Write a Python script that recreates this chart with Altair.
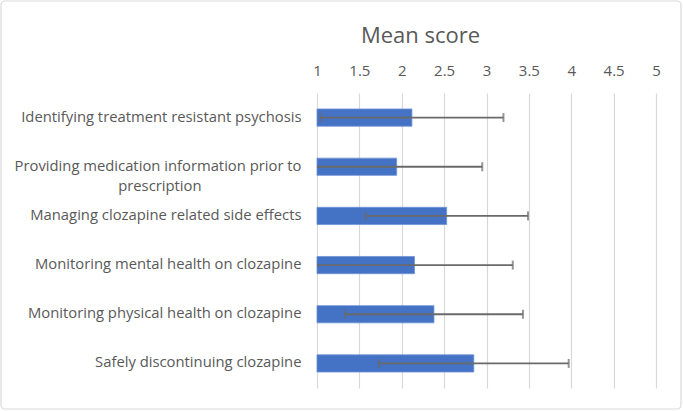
import altair as alt
import pandas as pd

categories = [
    "Identifying treatment resistant psychosis",
    "Providing medication information prior to prescription",
    "Managing clozapine related side effects",
    "Monitoring mental health on clozapine",
    "Monitoring physical health on clozapine",
    "Safely discontinuing clozapine",
]
means = [2.12, 1.94, 2.53, 2.15, 2.38, 2.85]
sds = [1.08, 1.01, 0.96, 1.16, 1.05, 1.12]
x_ticks = [1, 1.5, 2, 2.5, 3, 3.5, 4, 4.5, 5]

df = pd.DataFrame({"item": categories, "mean": means, "sd": sds})

FONT = "Open Sans"
TXT = "#595959"
W, H = 339, 295

pad = "\u00a0" * 26 + "\u200b"
label_expr = (
    "datum.value == 'Providing medication information prior to prescription' ? "
    "['Providing medication information prior to', 'prescription" + pad + "'] : datum.value"
)

x_scale = alt.Scale(domain=[1, 5], nice=False, zero=False)
y_enc = alt.Y(
    "item:N",
    sort=categories,
    scale=alt.Scale(paddingInner=0.65, paddingOuter=0.325),
    axis=alt.Axis(
        title=None, ticks=False, domain=False, labelFontSize=14.8, labelFont=FONT,
        labelColor=TXT, labelPadding=16, labelExpr=label_expr, labelLineHeight=20,
        labelLimit=400,
    ),
)

base = alt.Chart(df).transform_calculate(
    lo="datum.mean - datum.sd", hi="datum.mean + datum.sd"
)

bars = base.mark_bar(color="#4472C4", stroke="#6f93d6", strokeWidth=0.8).encode(
    x=alt.X(
        "mean:Q",
        scale=x_scale,
        axis=alt.Axis(
            orient="top", values=x_ticks, format="~g", title=None, ticks=False,
            domain=False, grid=True, gridColor="#d9d9d9", gridWidth=1.2,
            labelFontSize=15, labelFont=FONT, labelColor=TXT, labelPadding=15,
            labelFlush=False,
        ),
    ),
    x2=alt.X2(datum=1),
    y=y_enc,
)

ERR = "#6a6a6a"
rules = base.mark_rule(color=ERR, strokeWidth=1.8, clip=True).encode(
    x=alt.X("lo:Q", scale=x_scale), x2="hi:Q", y=alt.Y("item:N", sort=categories)
)
caps_lo = base.mark_tick(color=ERR, thickness=2, size=9, clip=True).encode(
    x=alt.X("lo:Q", scale=x_scale), y=alt.Y("item:N", sort=categories)
)
caps_hi = base.mark_tick(color=ERR, thickness=2, size=9, clip=True).encode(
    x=alt.X("hi:Q", scale=x_scale), y=alt.Y("item:N", sort=categories)
)

border = alt.Chart(pd.DataFrame({"k": [0]})).mark_rect(
    fill="transparent", stroke="#d9d9d9", strokeWidth=1.2, cornerRadius=4
).encode(
    x=alt.value(-316), x2=alt.value(W + 25), y=alt.value(-92), y2=alt.value(H + 21)
)

chart = alt.layer(border, bars, rules, caps_lo, caps_hi).properties(
    width=W,
    height=H,
    padding={"left": 317, "top": 93, "right": 27, "bottom": 23},
    autosize=alt.AutoSizeParams(type="none"),
    background="white",
    title=alt.TitleParams(
        "Mean score", font=FONT, fontSize=22, fontWeight="normal", color=TXT,
        anchor="middle", dx=-66, offset=-65, baseline="alphabetic",
    ),
).configure_view(stroke=None)

chart.save("out.html", embed_options={"renderer": "svg", "actions": False})
